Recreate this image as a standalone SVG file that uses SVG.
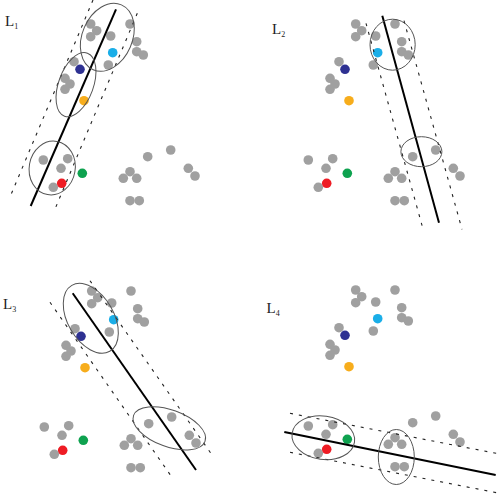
<svg xmlns="http://www.w3.org/2000/svg" xmlns:xlink="http://www.w3.org/1999/xlink" width="499" height="496" viewBox="0 0 499 496">
<style>
.g{fill:#a0a0a0}
.cy{fill:#1aaee8}.nv{fill:#2e3192}.or{fill:#f7ad1c}.gr{fill:#0ea24f}.rd{fill:#ee1c24}
.sol{stroke:#000;stroke-width:2;fill:none}
.dash{stroke:#222;stroke-width:1.1;stroke-dasharray:3 6;fill:none}
.ell{stroke:#555;stroke-width:1;fill:none}
.lab{font-family:"Liberation Serif","Times New Roman",serif;fill:#222}
</style>
<defs>
<g id="cloud">
<g class="g">
<circle cx="90.7" cy="24" r="4.8"/><circle cx="96.7" cy="30.7" r="4.8"/><circle cx="90.7" cy="36.7" r="4.8"/>
<circle cx="110.7" cy="36" r="4.8"/><circle cx="130" cy="24" r="4.8"/><circle cx="136.7" cy="41.7" r="4.8"/>
<circle cx="136.7" cy="51.7" r="4.8"/><circle cx="143.3" cy="55" r="4.8"/><circle cx="108.3" cy="65" r="4.8"/>
<circle cx="74" cy="61.7" r="4.8"/><circle cx="65" cy="78.3" r="4.8"/><circle cx="70" cy="84" r="4.8"/><circle cx="65" cy="89.3" r="4.8"/>
<circle cx="43.3" cy="160" r="4.8"/><circle cx="67.7" cy="158.7" r="4.8"/><circle cx="61" cy="168.3" r="4.8"/><circle cx="53.3" cy="187.3" r="4.8"/>
<circle cx="147.7" cy="156.7" r="4.8"/><circle cx="170.7" cy="150" r="4.8"/><circle cx="130" cy="171.7" r="4.8"/>
<circle cx="123.3" cy="178.3" r="4.8"/><circle cx="136.7" cy="178.3" r="4.8"/><circle cx="188.3" cy="168.3" r="4.8"/>
<circle cx="195" cy="176" r="4.8"/><circle cx="130" cy="200.7" r="4.8"/><circle cx="139.3" cy="200.7" r="4.8"/>
</g>
<circle class="cy" cx="112.7" cy="52.7" r="4.8"/>
<circle class="nv" cx="80" cy="69.3" r="4.8"/>
<circle class="or" cx="84" cy="100.7" r="4.8"/>
<circle class="gr" cx="82.3" cy="173.3" r="4.8"/>
<circle class="rd" cx="61.7" cy="183.3" r="4.8"/>
</g>
</defs>

<g id="panel1">
<use xlink:href="#cloud"/>
<line class="sol" x1="116" y1="9.3" x2="30.7" y2="206"/>
<line class="dash" x1="93" y1="0" x2="10" y2="197"/>
<line class="dash" x1="137.3" y1="13.3" x2="54.3" y2="210.7"/>
<ellipse class="ell" cx="107.3" cy="37.3" rx="25" ry="35.4" transform="rotate(23.5 107.3 37.3)"/>
<ellipse class="ell" cx="76" cy="84.7" rx="17.4" ry="33.5" transform="rotate(20 76 84.7)"/>
<ellipse class="ell" cx="52.2" cy="168" rx="23" ry="27" transform="rotate(10 52.2 168)"/>
<text class="lab" x="5" y="26" font-size="15">L<tspan font-size="8" dy="3">1</tspan></text>
</g>

<g id="panel2">
<use xlink:href="#cloud" transform="translate(265 0)"/>
<line class="sol" x1="382.3" y1="15.7" x2="439" y2="222.7"/>
<line class="dash" x1="366" y1="23.3" x2="423.3" y2="230"/>
<line class="dash" x1="404" y1="20.7" x2="462" y2="229.3"/>
<ellipse class="ell" cx="392.6" cy="44.7" rx="22.6" ry="25.5"/>
<ellipse class="ell" cx="421.4" cy="151.7" rx="20.5" ry="15"/>
<text class="lab" x="272" y="33.5" font-size="15">L<tspan font-size="8" dy="3">2</tspan></text>
</g>

<g id="panel3">
<use xlink:href="#cloud" transform="translate(1 267)"/>
<line class="sol" x1="72.7" y1="293.3" x2="196" y2="470"/>
<line class="dash" x1="50" y1="302.3" x2="172.7" y2="478.3"/>
<line class="dash" x1="90" y1="280.7" x2="213.3" y2="456.7"/>
<ellipse class="ell" cx="90.8" cy="318.3" rx="23" ry="38" transform="rotate(-30 90.8 318.3)"/>
<ellipse class="ell" cx="169.3" cy="428.3" rx="38" ry="18.4" transform="rotate(20 169.3 428.3)"/>
<text class="lab" x="3" y="308.5" font-size="15">L<tspan font-size="8" dy="3">3</tspan></text>
</g>

<g id="panel4">
<use xlink:href="#cloud" transform="translate(265 266)"/>
<line class="sol" x1="284.3" y1="432" x2="495.7" y2="475"/>
<line class="dash" x1="290" y1="413.3" x2="499.7" y2="454"/>
<line class="dash" x1="290" y1="452.3" x2="499.7" y2="493.3"/>
<ellipse class="ell" cx="323.3" cy="437.7" rx="31.5" ry="21.7" transform="rotate(8 323.3 437.7)"/>
<ellipse class="ell" cx="396.3" cy="457" rx="18" ry="27.5"/>
<text class="lab" x="266.5" y="312.5" font-size="15">L<tspan font-size="8" dy="3">4</tspan></text>
</g>
</svg>
